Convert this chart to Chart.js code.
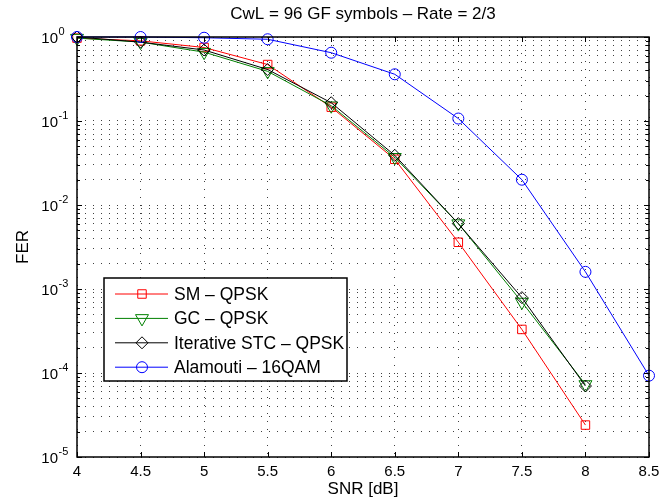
<!DOCTYPE html>
<html lang="en">

<head>
    <meta charset="UTF-8">
    <title>FER x SNR</title>
    <script src="https://cdn.jsdelivr.net/npm/chart.js"></script>
    <style>
        body { margin: 0; background-color: #ffffff; }
        canvas { display: block; }
    </style>
</head>

<body>
    <canvas id="myChartCanvas" width="662" height="504"></canvas>
</body>

</html>

<script>

    // values
    var snr = [4, 4.5, 5, 5.5, 6, 6.5, 7, 7.5, 8];
    var snrAlamouti = [4, 4.5, 5, 5.5, 6, 6.5, 7, 7.5, 8, 8.5];

    var ferSM = [0.97, 0.9, 0.75, 0.47, 0.146, 0.035, 0.0036, 0.00033, 0.000024];
    var ferGC = [0.97, 0.87, 0.66, 0.39, 0.152, 0.037, 0.006, 0.0007, 0.000073];
    var ferSTC = [1.0, 0.87, 0.70, 0.41, 0.165, 0.039, 0.006, 0.00079, 0.00007];
    var ferAlamouti = [1.0, 1.0, 0.98, 0.94, 0.65, 0.36, 0.107, 0.020, 0.0016, 0.000093];

    var nomes = ['SM \u2013 QPSK', 'GC \u2013 QPSK', 'Iterative STC \u2013 QPSK', 'Alamouti \u2013 16QAM'];
    var cores = ['#ff0000', '#008000', '#000000', '#0000ff'];
    var marcadores = ['rect', 'triangle', 'rectRot', 'circle'];

    var xTicks = [4, 4.5, 5, 5.5, 6, 6.5, 7, 7.5, 8, 8.5];
    var decadas = [-5, -4, -3, -2, -1, 0];

    var titulo = 'CwL = 96 GF symbols \u2013 Rate = 2/3';
    var xTitulo = 'SNR [dB]';
    var yTitulo = 'FER';

    var fonte = '"Liberation Sans", Arial, Helvetica, sans-serif';

    // all log ticks 1..9 x 10^n, like matlab minor grid
    var yTicks = [];
    for (var d = 0; d < decadas.length - 1; d++) {
        for (var m = 1; m < 10; m++) {
            yTicks.push(m * Math.pow(10, decadas[d]));
        }
    }
    yTicks.push(1);

    function pontos(xs, ys) {
        var out = [];
        for (var i = 0; i < ys.length; i++) {
            out.push({ x: xs[i], y: ys[i] });
        }
        return out;
    }

    function serie(i, xs, ys, raio, rot) {
        return {
            label: nomes[i],
            data: pontos(xs, ys),
            borderColor: cores[i],
            backgroundColor: 'transparent',
            pointBorderColor: cores[i],
            pointBackgroundColor: 'transparent',
            pointStyle: marcadores[i],
            pointRotation: rot,
            pointRadius: raio,
            pointBorderWidth: 1,
            borderWidth: 1,
            tension: 0,
            fill: false,
            clip: false,
            order: 4 - i
        };
    }

    function desenhaMarcador(ctx, estilo, x, y, r) {
        ctx.beginPath();
        if (estilo == 'rect') {
            var s = r * Math.SQRT1_2;
            ctx.rect(x - s, y - s, 2 * s, 2 * s);
        } else if (estilo == 'triangle') {
            // pointing down
            ctx.moveTo(x, y + r);
            ctx.lineTo(x - r * Math.sin(Math.PI / 3), y - r / 2);
            ctx.lineTo(x + r * Math.sin(Math.PI / 3), y - r / 2);
            ctx.closePath();
        } else if (estilo == 'rectRot') {
            ctx.moveTo(x, y - r);
            ctx.lineTo(x + r, y);
            ctx.lineTo(x, y + r);
            ctx.lineTo(x - r, y);
            ctx.closePath();
        } else {
            ctx.arc(x, y, r, 0, Math.PI * 2);
        }
        ctx.stroke();
    }

    var raios = [6, 7.5, 6, 5.5];

    var moldura = {
        id: 'moldura',
        afterDraw: function (chart) {
            var ctx = chart.ctx;
            var a = chart.chartArea;
            var xs = chart.scales.x;
            var ys = chart.scales.y;

            ctx.save();
            ctx.strokeStyle = '#000';
            ctx.fillStyle = '#000';

            // inner ticks
            ctx.lineWidth = 1;
            ctx.beginPath();
            for (var i = 0; i < xTicks.length; i++) {
                var px = Math.round(xs.getPixelForValue(xTicks[i])) + 0.5;
                ctx.moveTo(px, a.bottom);
                ctx.lineTo(px, a.bottom - 5);
                ctx.moveTo(px, a.top);
                ctx.lineTo(px, a.top + 5);
            }
            for (var j = 0; j < yTicks.length; j++) {
                var py = Math.round(ys.getPixelForValue(yTicks[j])) + 0.5;
                var mant = yTicks[j] / Math.pow(10, Math.floor(Math.log10(yTicks[j]) + 1e-9));
                var len = Math.abs(mant - 1) < 1e-6 ? 5 : 3;
                ctx.moveTo(a.left, py);
                ctx.lineTo(a.left + len, py);
                ctx.moveTo(a.right, py);
                ctx.lineTo(a.right - len, py);
            }
            ctx.stroke();

            // box
            ctx.lineWidth = 1.5;
            ctx.strokeRect(a.left, a.top, a.right - a.left, a.bottom - a.top);

            // x tick labels
            ctx.font = '15px ' + fonte;
            ctx.textAlign = 'center';
            ctx.textBaseline = 'alphabetic';
            for (var k = 0; k < xTicks.length; k++) {
                ctx.fillText(String(xTicks[k]), xs.getPixelForValue(xTicks[k]), 476);
            }

            // y tick labels 10^n
            for (var n = 0; n < decadas.length; n++) {
                var ty = ys.getPixelForValue(Math.pow(10, decadas[n]));
                ctx.font = '15px ' + fonte;
                ctx.textAlign = 'right';
                ctx.fillText('10', 58, ty + 5.5);
                ctx.font = '11px ' + fonte;
                ctx.textAlign = 'left';
                ctx.fillText(String(decadas[n]), 58.5, ty - 2.5);
            }

            // titles
            ctx.font = '17px ' + fonte;
            ctx.textAlign = 'center';
            ctx.fillText(titulo, (a.left + a.right) / 2, 18.5);
            ctx.fillText(xTitulo, (a.left + a.right) / 2, 494);
            ctx.save();
            ctx.translate(28, (a.top + a.bottom) / 2);
            ctx.rotate(-Math.PI / 2);
            ctx.fillText(yTitulo, 0, 0);
            ctx.restore();

            // legend box
            var lx = 104, ly = 278, lw = 243, lh = 103;
            ctx.fillStyle = '#fff';
            ctx.fillRect(lx, ly, lw, lh);
            ctx.lineWidth = 1.5;
            ctx.strokeStyle = '#000';
            ctx.strokeRect(lx, ly, lw, lh);

            ctx.font = '17.5px ' + fonte;
            ctx.textAlign = 'left';
            ctx.textBaseline = 'middle';
            for (var s = 0; s < nomes.length; s++) {
                var ry = 294 + s * 24.4;
                ctx.strokeStyle = cores[s];
                ctx.lineWidth = 1;
                ctx.beginPath();
                ctx.moveTo(115, ry);
                ctx.lineTo(168, ry);
                ctx.stroke();
                desenhaMarcador(ctx, marcadores[s], 142, ry, raios[s]);
                ctx.fillStyle = '#000';
                ctx.fillText(nomes[s], 174, ry + 1);
            }

            ctx.restore();
        }
    };

    var config = {
        type: 'line',
        data: {
            datasets: [
                serie(0, snr, ferSM, raios[0], 0),
                serie(1, snr, ferGC, raios[1], 180),
                serie(2, snr, ferSTC, raios[2], 0),
                serie(3, snrAlamouti, ferAlamouti, raios[3], 0)
            ]
        },
        options: {
            responsive: false,
            animation: false,
            devicePixelRatio: 1,
            layout: {
                padding: { top: 37, right: 13, left: 0, bottom: 0 }
            },
            plugins: {
                legend: { display: false },
                tooltip: { enabled: false },
                title: { display: false }
            },
            scales: {
                x: {
                    type: 'linear',
                    min: 4,
                    max: 8.5,
                    ticks: { display: false, stepSize: 0.5 },
                    grid: { color: 'rgba(0,0,0,0.75)', lineWidth: 1, drawTicks: false },
                    border: { display: false, dash: [1, 7] },
                    afterFit: function (scale) { scale.height = 47; }
                },
                y: {
                    type: 'logarithmic',
                    min: 1e-5,
                    max: 1,
                    ticks: { display: false, autoSkip: false },
                    grid: { color: 'rgba(0,0,0,0.75)', lineWidth: 1, drawTicks: false },
                    border: { display: false, dash: [1, 7] },
                    afterBuildTicks: function (scale) {
                        scale.ticks = yTicks.map(function (v) { return { value: v }; });
                    },
                    afterFit: function (scale) { scale.width = 77; }
                }
            }
        },
        plugins: [moldura]
    };

    var myChart = new Chart(document.getElementById('myChartCanvas'), config);

</script>
